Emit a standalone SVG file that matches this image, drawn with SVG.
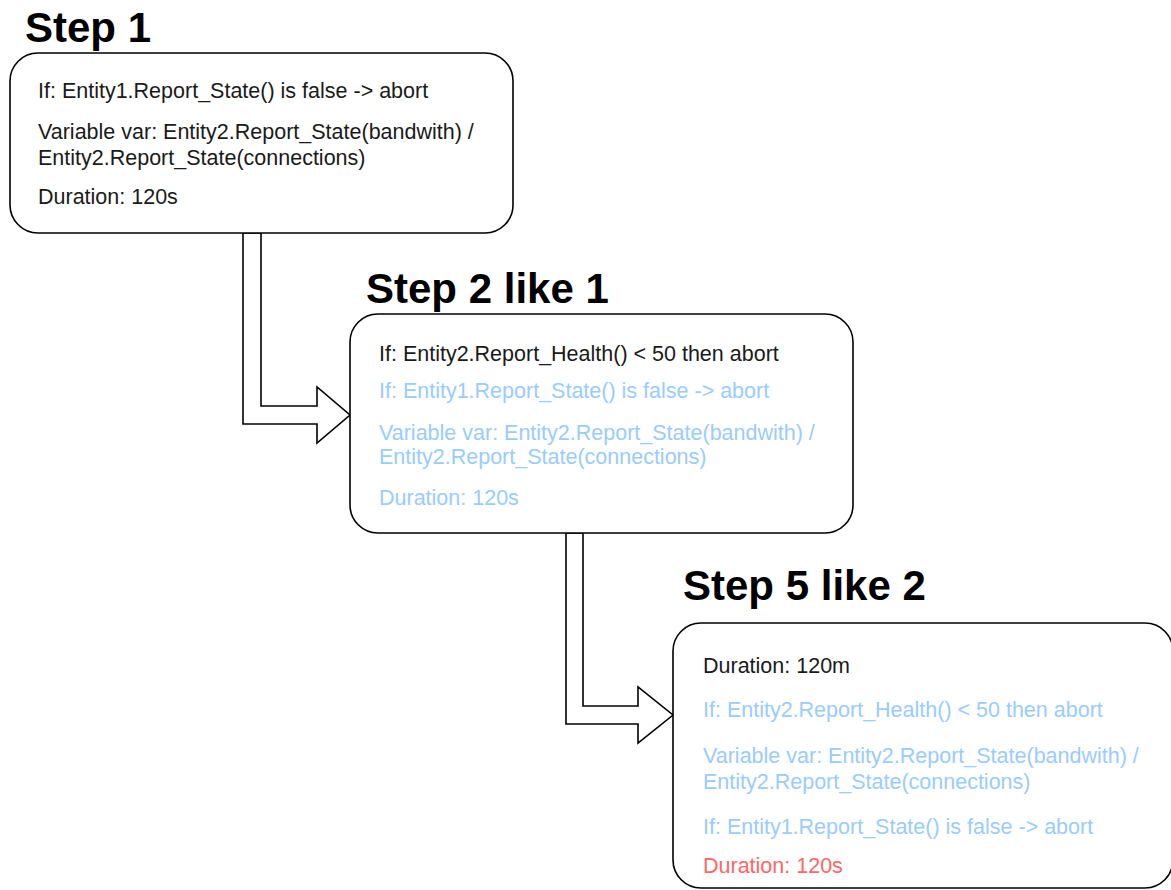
<svg xmlns="http://www.w3.org/2000/svg" width="1171" height="890" viewBox="0 0 1171 890">
  <style>
    .box { fill: #ffffff; stroke: #000000; stroke-width: 1.6; }
    .flow { fill: #ffffff; stroke: #000000; stroke-width: 1.6; stroke-linejoin: miter; }
    .title { font-family: "Liberation Sans", Arial, sans-serif; font-weight: bold; font-size: 42px; fill: #000000; }
    .txt { font-family: "Liberation Sans", Arial, sans-serif; font-size: 21.5px; }
    .dark { fill: #1a1a1a; }
    .blue { fill: #99ccff; }
    .red { fill: #ff6666; }
  </style>
  <rect width="1171" height="890" fill="#ffffff"/>

  <!-- connectors: hollow block arrows between the steps -->
  <g id="connectors">
    <path class="flow" d="M243,233 L261,233 L261,406 L317,406 L317,387 L350,415 L317,443 L317,424 L243,424 Z"/>
    <path class="flow" d="M566,533 L583,533 L583,706 L638,706 L638,687 L673,715 L638,743 L638,724 L566,724 Z"/>
  </g>

  <g id="step1">
    <text class="title" x="25" y="42">Step 1</text>
    <rect class="box" x="10" y="53" width="503" height="180" rx="28" ry="28"/>
    <text class="txt dark" x="38" y="98">If: Entity1.Report_State() is false -&gt; abort</text>
    <text class="txt dark" x="38" y="139">Variable var: Entity2.Report_State(bandwith) /</text>
    <text class="txt dark" x="38" y="165">Entity2.Report_State(connections)</text>
    <text class="txt dark" x="38" y="204">Duration: 120s</text>
  </g>

  <g id="step2">
    <text class="title" x="366" y="303">Step 2 like 1</text>
    <rect class="box" x="350" y="314" width="503" height="219" rx="28" ry="28"/>
    <text class="txt dark" x="379" y="361">If: Entity2.Report_Health() &lt; 50 then abort</text>
    <text class="txt blue" x="379" y="398">If: Entity1.Report_State() is false -&gt; abort</text>
    <text class="txt blue" x="379" y="440">Variable var: Entity2.Report_State(bandwith) /</text>
    <text class="txt blue" x="379" y="464">Entity2.Report_State(connections)</text>
    <text class="txt blue" x="379" y="505">Duration: 120s</text>
  </g>

  <g id="step5">
    <text class="title" x="683" y="600">Step 5 like 2</text>
    <rect class="box" x="673" y="623" width="500" height="265" rx="28" ry="28"/>
    <text class="txt dark" x="703" y="673">Duration: 120m</text>
    <text class="txt blue" x="703" y="717">If: Entity2.Report_Health() &lt; 50 then abort</text>
    <text class="txt blue" x="703" y="763">Variable var: Entity2.Report_State(bandwith) /</text>
    <text class="txt blue" x="703" y="789">Entity2.Report_State(connections)</text>
    <text class="txt blue" x="703" y="834">If: Entity1.Report_State() is false -&gt; abort</text>
    <text class="txt red" x="703" y="873">Duration: 120s</text>
  </g>
</svg>
